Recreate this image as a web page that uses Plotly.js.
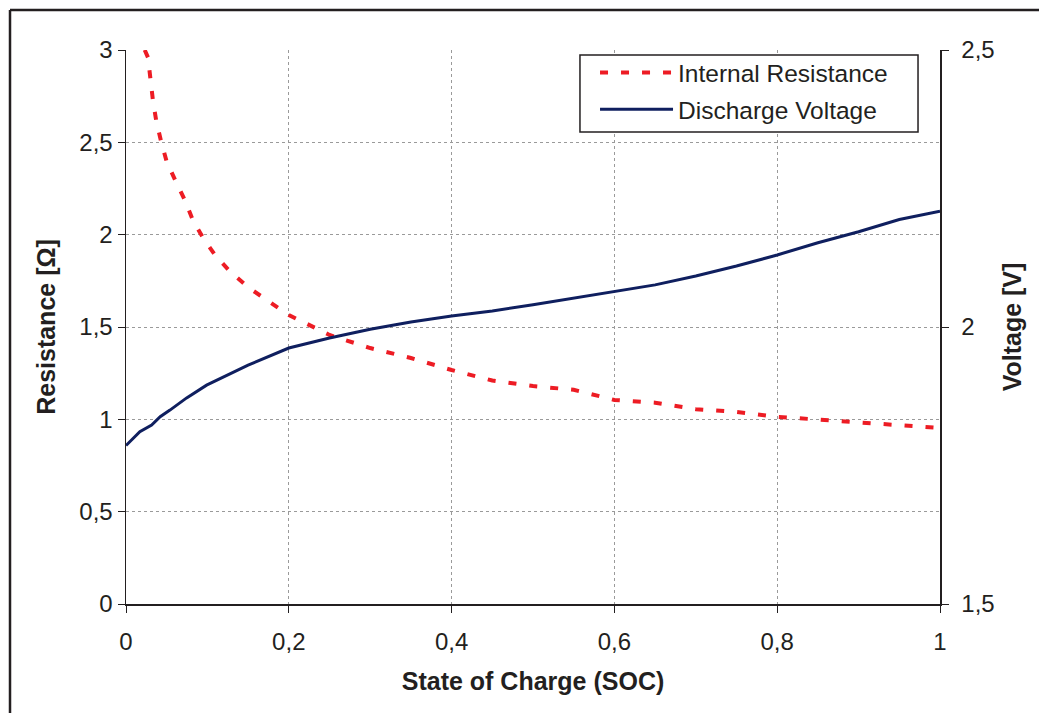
<!DOCTYPE html>
<html>
<head>
<meta charset="utf-8">
<script src="https://cdn.plot.ly/plotly-3.0.1.min.js"></script>
<style>
html,body{margin:0;padding:0;background:#fff;}
#chart{width:1039px;height:713px;}
</style>
</head>
<body>
<div id="chart"></div>
<script>
// Internal resistance (left axis, Ohm)
const socR = [0.023, 0.027, 0.033, 0.037, 0.043, 0.05, 0.061, 0.072, 0.082, 0.095, 0.11, 0.128, 0.15, 0.2, 0.25, 0.3, 0.35, 0.4, 0.45, 0.5, 0.55, 0.6, 0.65, 0.7, 0.75, 0.8, 0.85, 0.9, 0.95, 1.0];
const resistance = [3.0, 2.96, 2.73, 2.62, 2.507, 2.395, 2.29, 2.19, 2.08, 1.98, 1.886, 1.80, 1.715, 1.565, 1.457, 1.386, 1.332, 1.267, 1.21, 1.18, 1.16, 1.105, 1.09, 1.055, 1.04, 1.013, 0.999, 0.983, 0.967, 0.953];

// Discharge voltage (right axis, V)
const socV = [0.0, 0.017, 0.0315, 0.042, 0.054, 0.0745, 0.099, 0.15, 0.2, 0.25, 0.3, 0.35, 0.4, 0.45, 0.5, 0.55, 0.6, 0.65, 0.7, 0.75, 0.8, 0.85, 0.9, 0.95, 1.0];
const voltage = [1.786, 1.811, 1.823, 1.838, 1.85, 1.872, 1.895, 1.931, 1.962, 1.98, 1.996, 2.009, 2.02, 2.029, 2.04, 2.052, 2.065, 2.076, 2.092, 2.11, 2.13, 2.152, 2.172, 2.194, 2.209];

const seriesNames = ["Internal Resistance", "Discharge Voltage"];
const xTitle = "State of Charge (SOC)";
const yTitle = "Resistance [Ω]";
const y2Title = "Voltage [V]";

const txt = "#231f20";
const fontFam = "Liberation Sans, Arial, sans-serif";

const traces = [
  {x: socR, y: resistance, name: seriesNames[0], mode: "lines", yaxis: "y", legendgroup: "a",
   line: {color: "#ed1c24", width: 4, dash: "8px,13px"}},
  {x: socV, y: voltage, name: seriesNames[1], mode: "lines", yaxis: "y2", legendgroup: "b",
   line: {color: "#0f1f5f", width: 3}}
];

const layout = {
  width: 1039, height: 713,
  margin: {l: 126, r: 99, t: 50, b: 109, pad: 0},
  paper_bgcolor: "#fff", plot_bgcolor: "#fff",
  separators: ",.",
  font: {family: fontFam, size: 24, color: txt},
  showlegend: true,
  legend: {x: 0.5762, xanchor: "left", y: 1.0, yanchor: "top",
    borderwidth: 0, bgcolor: "rgba(0,0,0,0)",
    font: {size: 24.5, color: txt}, tracegroupgap: 2, itemwidth: 73},
  xaxis: {range: [0, 1], dtick: 0.2, tick0: 0, showgrid: true, gridcolor: "#9a9a9a", griddash: "dot", gridwidth: 1,
    zeroline: false, showline: true, linecolor: "#231f20", linewidth: 1.5,
    ticks: "outside", ticklen: 7, tickcolor: "#231f20", ticklabelstandoff: 9,
    tickfont: {size: 24, color: txt},
    title: {text: xTitle, font: {size: 25, color: txt, weight: "bold"}, standoff: 18}},
  yaxis: {range: [0, 3], dtick: 0.5, tick0: 0, showgrid: true, gridcolor: "#9a9a9a", griddash: "dot", gridwidth: 1,
    zeroline: false, showline: true, linecolor: "#231f20", linewidth: 1.5,
    ticks: "outside", ticklen: 7, tickcolor: "#231f20", ticklabelstandoff: 0,
    tickfont: {size: 24, color: txt},
    title: {text: yTitle, font: {size: 25, color: txt, weight: "bold"}, standoff: 16}},
  yaxis2: {range: [1.5, 2.5], dtick: 0.5, tick0: 1.5, overlaying: "y", side: "right",
    showgrid: false, zeroline: false, showline: true, linecolor: "#231f20", linewidth: 1.5,
    ticks: "outside", ticklen: 7, tickcolor: "#231f20", ticklabelstandoff: 8,
    tickfont: {size: 24, color: txt},
    title: {text: y2Title, font: {size: 25, color: txt, weight: "bold"}, standoff: 10}},
  shapes: [
    // legend box
    {type: "rect", xref: "paper", yref: "paper", x0: 0.5577, x1: 0.973, y0: 0.852, y1: 0.991,
     fillcolor: "#fff", line: {color: "#231f20", width: 1.5}, layer: "above"},
    // outer frame (top and left)
    {type: "line", xref: "paper", yref: "paper", x0: -0.1425, x1: 1.13, y0: 1.0722, y1: 1.0722,
     line: {color: "#231f20", width: 2.5}},
    {type: "line", xref: "paper", yref: "paper", x0: -0.1425, x1: -0.1425, y0: 1.0722, y1: -0.2,
     line: {color: "#231f20", width: 2.5}}
  ]
};

Plotly.newPlot("chart", traces, layout, {displayModeBar: false, staticPlot: true});
</script>
</body>
</html>
